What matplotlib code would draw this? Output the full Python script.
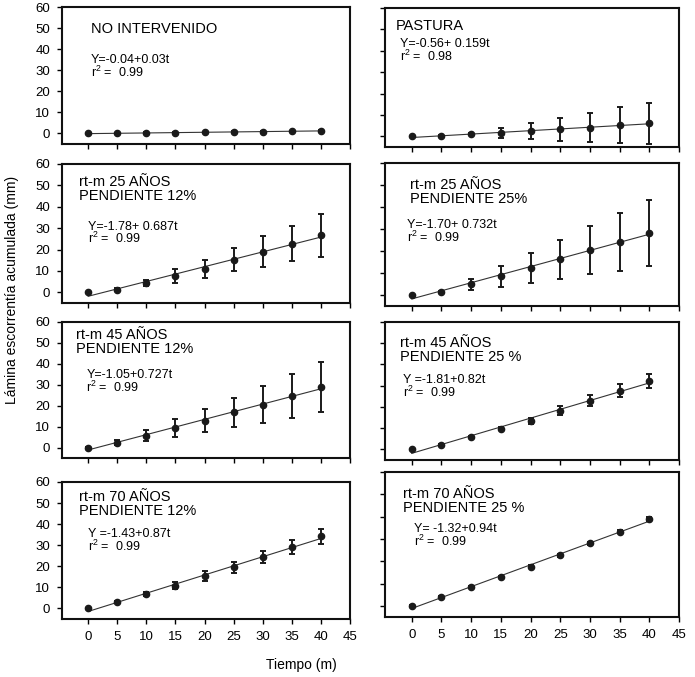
import numpy as np
import matplotlib
matplotlib.use('Agg')
import matplotlib.pyplot as plt

plt.rcParams['font.family'] = ['Liberation Sans', 'DejaVu Sans']
plt.rcParams['mathtext.default'] = 'regular'

# --- data ---
t = [0, 5, 10, 15, 20, 25, 30, 35, 40]

titles = ['NO INTERVENIDO', 'PASTURA',
          'rt-m 25 AÑOS\nPENDIENTE 12%', 'rt-m 25 AÑOS\nPENDIENTE 25%',
          'rt-m 45 AÑOS\nPENDIENTE 12%', 'rt-m 45 AÑOS\nPENDIENTE 25 %',
          'rt-m 70 AÑOS\nPENDIENTE 12%', 'rt-m 70 AÑOS\nPENDIENTE 25 %']
equations = ['Y=-0.04+0.03t', 'Y=-0.56+ 0.159t',
             'Y=-1.78+ 0.687t', 'Y=-1.70+ 0.732t',
             'Y=-1.05+0.727t', 'Y =-1.81+0.82t',
             'Y =-1.43+0.87t', 'Y= -1.32+0.94t']
r2 = ['0.99', '0.98', '0.99', '0.99', '0.99', '0.99', '0.99', '0.99']

no_int = [0.0, 0.0, 0.3, 0.4, 0.5, 0.7, 0.9, 1.0, 1.3]
no_int_err = [0.1, 0.1, 0.2, 0.2, 0.2, 0.3, 0.3, 0.4, 0.5]
pastura = [0.0, 0.1, 1.0, 1.4, 2.5, 3.3, 4.1, 5.3, 6.1]
pastura_err = [0.2, 0.3, 0.4, 2.3, 3.7, 5.3, 6.7, 8.3, 9.5]
a25_12 = [0.0, 1.3, 4.5, 7.5, 11.0, 15.2, 19.0, 22.8, 26.6]
a25_12_err = [0.3, 0.5, 1.4, 3.2, 4.3, 5.4, 7.1, 8.3, 10.1]
a25_25 = [0.0, 1.4, 4.9, 8.5, 12.3, 16.2, 20.5, 24.3, 28.2]
a25_25_err = [0.2, 0.5, 2.5, 4.7, 6.9, 8.7, 11.0, 13.2, 15.2]
a45_12 = [0.0, 2.4, 5.7, 9.4, 12.9, 16.8, 20.5, 24.6, 28.9]
a45_12_err = [0.2, 1.2, 2.6, 4.4, 5.4, 7.1, 8.9, 10.5, 12.0]
a45_25 = [0.0, 2.2, 5.8, 9.7, 13.5, 18.3, 23.0, 27.6, 32.4]
a45_25_err = [0.2, 0.3, 0.5, 0.7, 1.4, 2.3, 2.8, 3.1, 3.3]
a70_12 = [0.0, 3.0, 6.7, 10.8, 15.2, 19.5, 24.3, 29.2, 34.3]
a70_12_err = [0.2, 0.4, 1.0, 1.7, 2.4, 2.5, 2.8, 3.3, 3.5]
a70_25 = [0.0, 3.8, 8.3, 12.9, 17.6, 22.6, 28.0, 33.3, 39.0]
a70_25_err = [0.2, 0.4, 0.4, 0.5, 0.5, 0.6, 0.6, 0.8, 0.9]

series = [no_int, pastura, a25_12, a25_25, a45_12, a45_25, a70_12, a70_25]
errors = [no_int_err, pastura_err, a25_12_err, a25_25_err,
          a45_12_err, a45_25_err, a70_12_err, a70_25_err]

# --- layout (pixel boxes on a 695x677 canvas) ---
W, H = 695, 677
col_x = [(62, 350), (385, 679)]
rows_left = [(7, 144), (164, 303), (322, 458), (482, 619)]
rows_right = [(8, 147), (163, 306), (322, 460), (472, 617)]

# text positions in axes fraction: (title x, title y, eq x, eq y)
text_pos = [(0.10, 0.84, 0.10, 0.56), (0.035, 0.87, 0.05, 0.69),
            (0.06, 0.82, 0.09, 0.50), (0.085, 0.80, 0.075, 0.52),
            (0.05, 0.85, 0.085, 0.56), (0.05, 0.80, 0.06, 0.53),
            (0.06, 0.84, 0.09, 0.57), (0.06, 0.80, 0.10, 0.56)]

fig = plt.figure(figsize=(W / 100, H / 100), dpi=100)

for i in range(8):
    row, col = divmod(i, 2)
    x0, x1 = col_x[col]
    y0, y1 = (rows_left if col == 0 else rows_right)[row]
    ax = fig.add_axes([x0 / W, 1 - y1 / H, (x1 - x0) / W, (y1 - y0) / H])

    yv = np.array(series[i])
    b, a = np.polyfit(t, yv, 1)
    tt = np.array([t[0], t[-1]])
    ax.plot(tt, a + b * tt, color='#333333', lw=0.8, zorder=2)
    ax.errorbar(t, yv, yerr=errors[i], fmt='o', color='#1a1a1a', ms=4.5,
                elinewidth=1.4, capsize=2.5, capthick=1.4, zorder=3)

    ax.set_xlim(-4.5, 45)
    ax.set_ylim(-5, 60)
    ax.set_xticks(range(0, 50, 5))
    ax.set_yticks(range(0, 70, 10))
    ax.tick_params(direction='out', length=3.5, width=1, labelsize=9.5, pad=5)
    if row < 3:
        ax.set_xticklabels([])
    if col == 1:
        ax.set_yticklabels([])
    for s in ax.spines.values():
        s.set_linewidth(1.5)
        s.set_color('#111111')

    tx, ty, ex, ey = text_pos[i]
    ax.text(tx, ty, titles[i], transform=ax.transAxes, fontsize=10.5,
            va='center', ha='left', linespacing=1.0)
    ax.text(ex, ey, equations[i] + '\nr$^2$ =  ' + r2[i], transform=ax.transAxes,
            fontsize=9, va='center', ha='left', linespacing=0.9)

fig.text(12 / W, 1 - 290 / H, 'Lámina escorrentía acumulada (mm)', rotation=90,
         ha='center', va='center', fontsize=10)
fig.text(301 / W, 1 - 665 / H, 'Tiempo (m)', ha='center', va='center', fontsize=10)

fig.savefig('out.png', dpi=100)
